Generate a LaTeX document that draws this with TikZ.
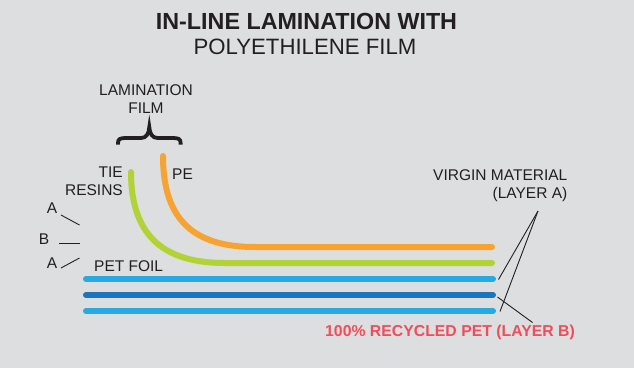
\documentclass[tikz,border=0pt]{standalone}
\usepackage{fontspec}
\setmainfont{Liberation Sans}
\definecolor{bg}{HTML}{DDDEDF}
\definecolor{ink}{HTML}{231F20}
\definecolor{peorange}{HTML}{F7A331}
\definecolor{tiegreen}{HTML}{B3D236}
\definecolor{lightblue}{HTML}{27AAE1}
\definecolor{darkblue}{HTML}{1C75BC}
\definecolor{recred}{HTML}{EE4D5B}
\begin{document}
\begin{tikzpicture}[x=1pt,y=-1pt,
  lbl/.style={inner sep=0pt, text=ink, font=\fontsize{15.5}{18.5}\selectfont},
  layer/.style={line width=6pt, line cap=round},
  leader/.style={draw=ink, line width=0.9pt}]
\fill[bg] (0,0) rectangle (634,368);
\useasboundingbox (0,0) rectangle (634,368);
% title
\node[inner sep=0pt, text=ink, font=\fontsize{23.3}{26}\selectfont\bfseries] (t1) at (306.5,21.5) {IN-LINE LAMINATION WITH};
\node[inner sep=0pt, text=ink, font=\fontsize{22.2}{26}\selectfont] (t2) at (305,47) {POLYETHILENE FILM};
% lamination film label
\node[lbl, align=center] (lam) at (146,99) {LAMINATION\\FILM};
\coordinate (brL) at (118,144.5);
\coordinate (brT) at (149.3,127);
\coordinate (brR) at (180.6,144.5);
\draw[ink, line width=3.8pt, line join=miter] (brL) -- (118,143) .. controls (118,139) and (120,138) .. (126,138) -- (141,138) .. controls (146,138) and (149,134) .. (brT) .. controls (149.6,134) and (152.6,138) .. (157.6,138) -- (172.6,138) .. controls (178.6,138) and (180.6,139) .. (180.6,143) -- (brR);
% layers
\coordinate (peS) at (163,156);
\coordinate (peE) at (492,247);
\coordinate (tiS) at (131,172);
\coordinate (tiE) at (492,263);
\draw[layer, peorange] (peS) .. controls (163,222) and (196,247) .. (255,247) -- (peE);
\draw[layer, tiegreen] (tiS) .. controls (131,238) and (166,263) .. (225,263) -- (tiE);
\coordinate (p1S) at (86,279); \coordinate (p1E) at (493,279);
\coordinate (p2S) at (86,295); \coordinate (p2E) at (493,295);
\coordinate (p3S) at (86,311); \coordinate (p3E) at (493,311);
\draw[layer, lightblue] (p1S) -- (p1E);
\draw[layer, darkblue] (p2S) -- (p2E);
\draw[layer, lightblue] (p3S) -- (p3E);
% labels
\node[lbl, align=right, anchor=east] (tie) at (123,181) {TIE\\RESINS};
\node[lbl, anchor=west] (pe) at (172,174) {PE};
\node[lbl, anchor=west] (petfoil) at (94,266) {PET FOIL};
\node[lbl, align=right, anchor=east] (virgin) at (567.5,185.5) {VIRGIN MATERIAL\\(LAYER A)};
\node[inner sep=0pt, text=recred, font=\fontsize{15.8}{18.5}\selectfont\bfseries, anchor=west] (rec) at (325,332) {100\% RECYCLED PET (LAYER B)};
% A/B/A
\node[lbl] (aTop) at (52,208) {A};
\node[lbl] (bMid) at (44,239.5) {B};
\node[lbl] (aBot) at (52,263.5) {A};
\draw[leader] (61,215) -- (79.5,225);
\draw[leader] (59,243) -- (79.5,243);
\draw[leader] (61,268) -- (79.5,258);
% leader lines right
\coordinate (vA) at (538,211);
\draw[leader] (vA) -- (498.5,279.5);
\draw[leader] (vA) -- (500,311.5);
\coordinate (rB) at (532.5,322.5);
\draw[leader] (rB) -- (497.5,297);
\end{tikzpicture}
\end{document}
